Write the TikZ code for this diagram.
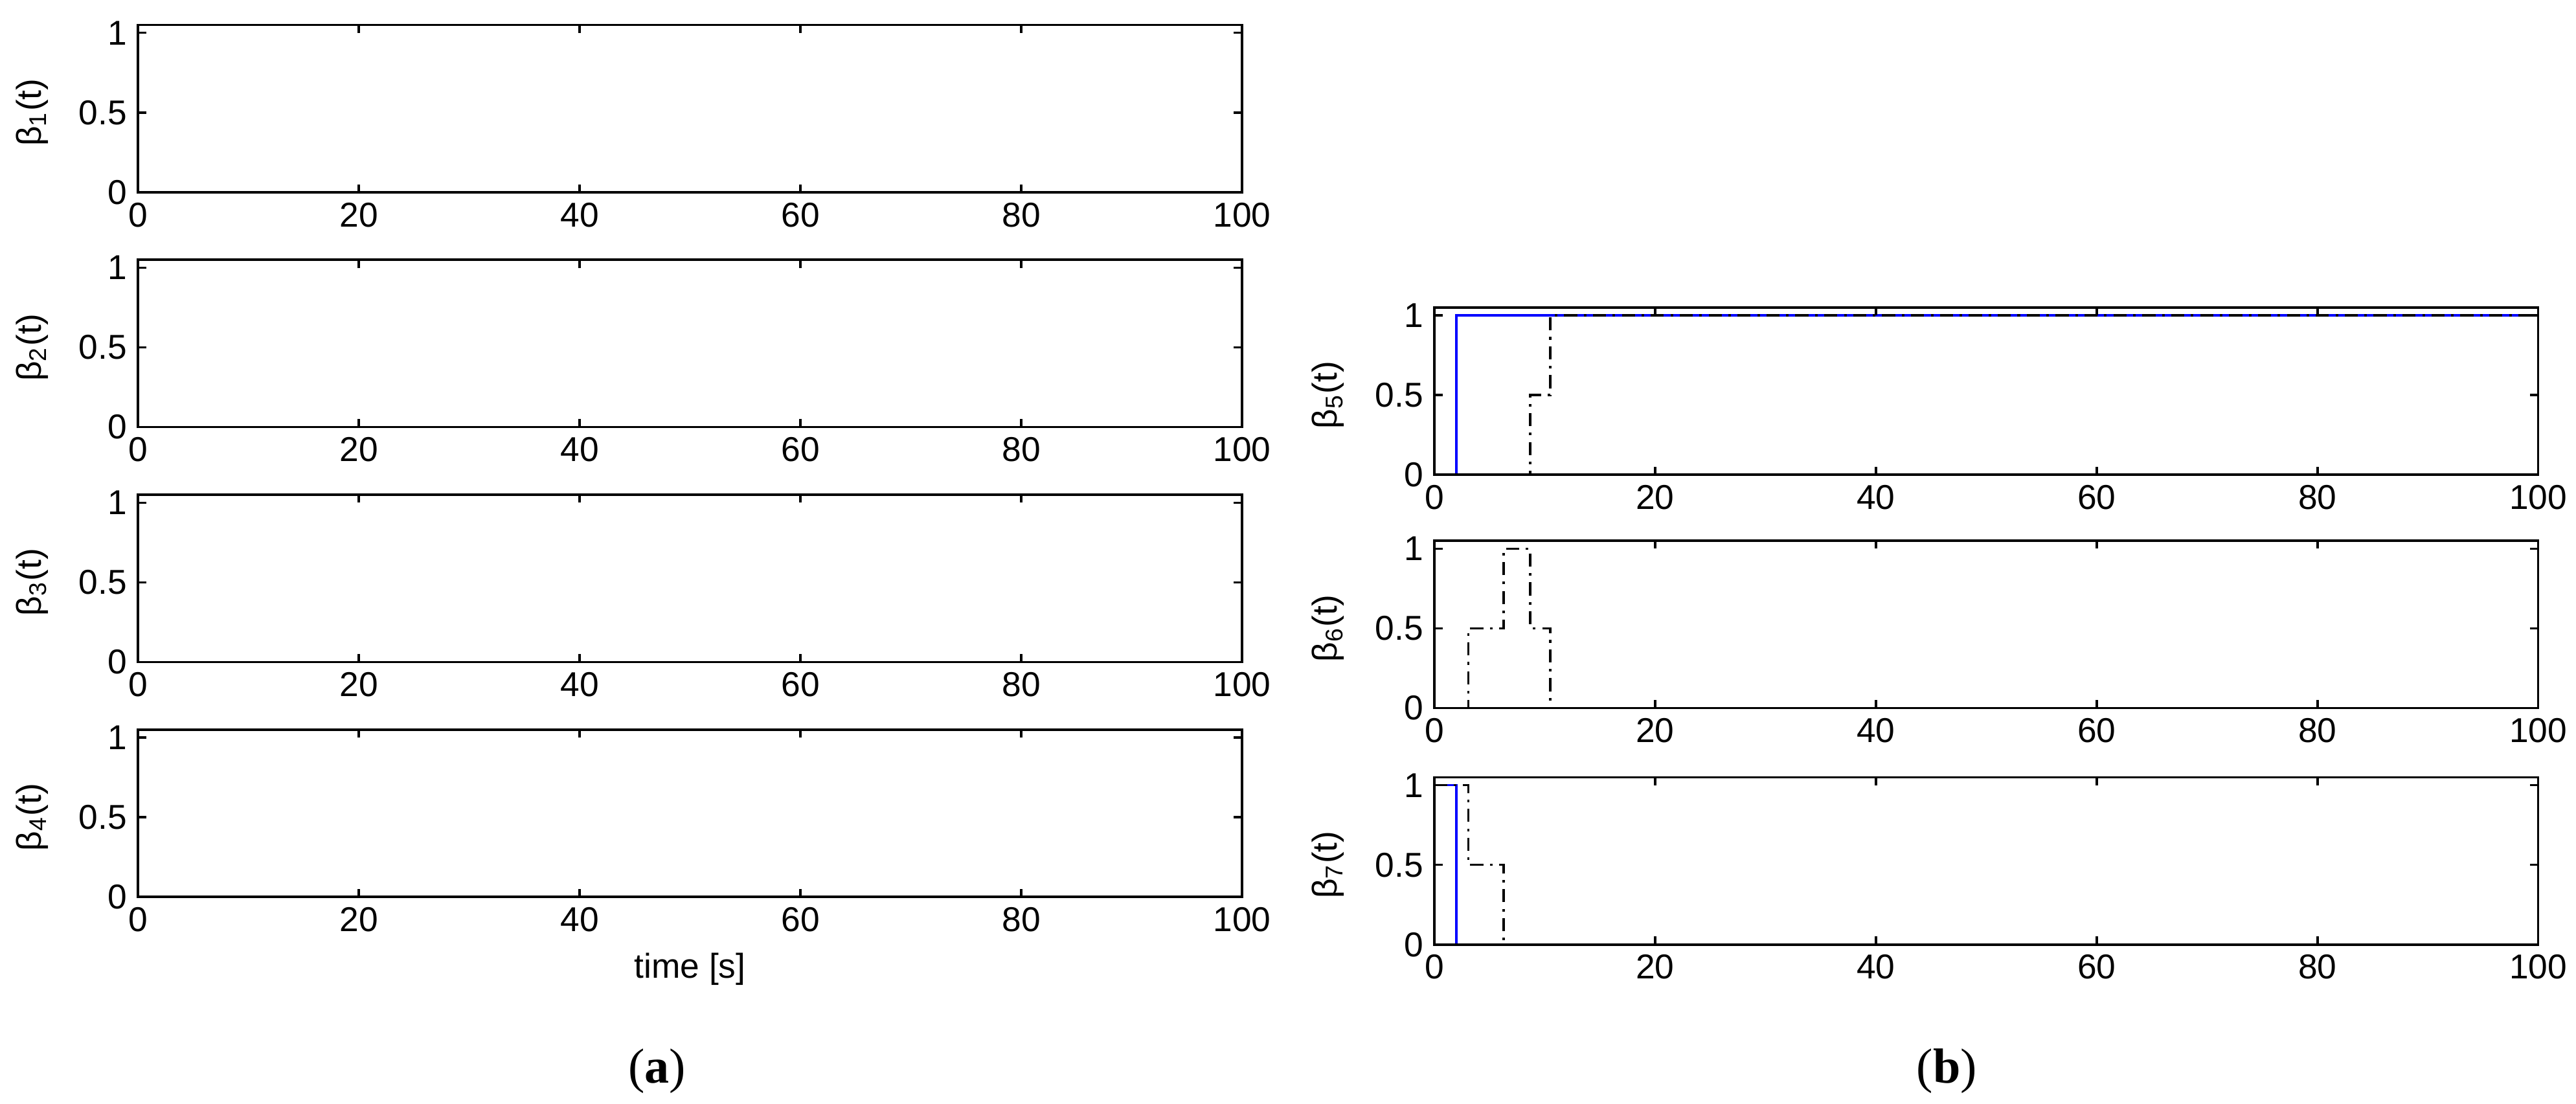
\documentclass[tikz,border=0pt]{standalone}
\usepackage{fontspec}
\setmainfont{Liberation Sans}
\newfontfamily\capfont{Liberation Serif}
\tikzset{
  frame/.style={black,line width=0.7pt},
  blue line/.style={blue,line width=0.7pt},
  black line/.style={black,line width=0.7pt,dash pattern=on 4pt off 2pt on 0.8pt off 2pt},
  tick/.style={font=\fontsize{10.5}{12}\selectfont,inner sep=1.5pt},
  panel/.style={font=\fontsize{15}{18}\selectfont\capfont}
}
% #1 x0, #2 bottom, #3 index, #4 blue path, #5 black path
\newcommand{\betaplot}[5]{
\begin{scope}[shift={(#1,#2)},xscale=6.72,yscale=97]
  \draw[blue line] #4;
  \draw[black line] #5;
  \draw[frame] (0,0) rectangle (100,1.05);
  \foreach \t in {0,20,...,100}
  {
    \draw[frame] (\t,0) -- (\t,0.05) (\t,1.05) -- (\t,1.0);
    \node[tick,anchor=north] (xt#3\t) at (\t,-0.03) {\t};
  }
  \foreach \v in {0,0.5,1}
  {
    \draw[frame] (0,\v) -- (0.75,\v) (100,\v) -- (99.25,\v);
    \node[tick,anchor=east] (yt#3\v) at (-0.5,\v) {\v};
  }
  \node[tick,rotate=90] (lab#3) at (-9.6,0.5) {β\textsubscript{#3}(t)};
\end{scope}
}
\begin{document}
\begin{tikzpicture}[x=0.5pt,y=0.5pt]
\useasboundingbox (0,0) rectangle (1568,-672);
% panel (a)
\foreach \i/\yb in {1/-117,2/-260,3/-403,4/-546}
{
  \betaplot{84}{\yb}{\i}{(0,0) -- (100,0)}{(0,0) -- (100,0)}
}
\node[tick] (time) at (420,-590) {time [s]};
% panel (b)
\betaplot{873}{-289}{5}{(0,0) -- (2,0) -- (2,1) -- (100,1)}{(0,0) -- (8.7,0) -- (8.7,0.5) -- (10.5,0.5) -- (10.5,1) -- (100,1)}
\betaplot{873}{-431}{6}{(0,0) -- (100,0)}{(0,0) -- (3.1,0) -- (3.1,0.5) -- (6.3,0.5) -- (6.3,1) -- (8.7,1) -- (8.7,0.5) -- (10.5,0.5) -- (10.5,0) -- (100,0)}
\betaplot{873}{-575}{7}{(0,1) -- (2,1) -- (2,0) -- (100,0)}{(0,1) -- (3.1,1) -- (3.1,0.5) -- (6.3,0.5) -- (6.3,0) -- (100,0)}
\node[panel] (capa) at (400,-652) {(\textbf{a})};
\node[panel] (capb) at (1185,-652) {(\textbf{b})};
\end{tikzpicture}
\end{document}
